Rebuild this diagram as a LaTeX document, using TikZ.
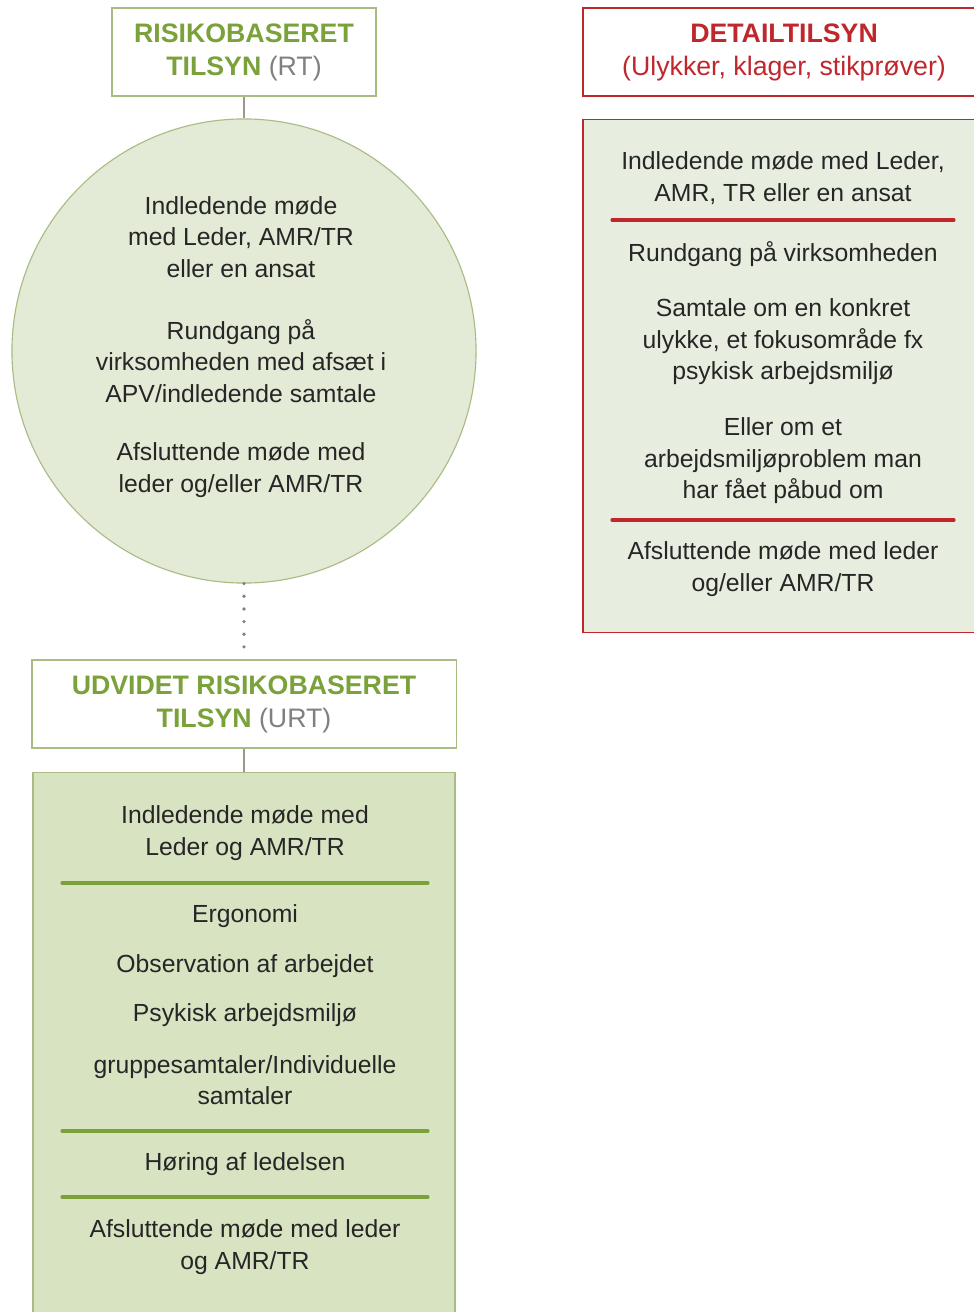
\documentclass[tikz,border=0pt]{standalone}
\usepackage{fontspec}
\setmainfont{Liberation Sans}
\usepackage{tikz}
\usetikzlibrary{positioning}

\definecolor{rtgreen}{HTML}{7AA13A}
\definecolor{rtframe}{HTML}{A9BC84}
\definecolor{rtfill}{HTML}{E3EAD5}
\definecolor{urtfill}{HTML}{D8E3C2}
\definecolor{dtred}{HTML}{C0272D}
\definecolor{dtfill}{HTML}{E8EEDF}
\definecolor{linegrey}{HTML}{9A9A8C}
\definecolor{txt}{HTML}{262626}

\tikzset{
  headbox/.style={draw, fill=white, line width=0.8pt, minimum height=2.2cm, align=center,
    font=\fontsize{19}{23.5}\selectfont},
  bodytxt/.style={align=center, text=txt, font=\fontsize{17.6}{22.4}\selectfont, inner sep=0pt},
  sepline/.style={line width=2.2pt, line cap=round}
}

\begin{document}
\begin{tikzpicture}[x=0.025cm, y=-0.025cm]
\useasboundingbox (0,0) rectangle (973,1312);

% risikobaseret tilsyn
\node[headbox, draw=rtframe, minimum width=6.6cm] (rthead) at (244,52)
  {\textcolor{rtgreen}{\bfseries RISIKOBASERET}\\\textcolor{rtgreen}{\bfseries TILSYN} \textcolor{gray}{(RT)}};
\node[circle, draw=rtframe, fill=rtfill, line width=0.8pt, minimum size=11.6cm] (rtcircle) at (244,351) {};
\draw[linegrey, line width=0.8pt] (rthead.south) -- (rtcircle.north);

\node[bodytxt] (rtmeet) at (241,237) {Indledende møde\\med Leder, AMR/TR\\eller en ansat};
\node[bodytxt] (rtround) at (241,361) {Rundgang på\\virksomheden med afsæt i\\APV/indledende samtale};
\node[bodytxt] (rtend) at (241,470) {Afsluttende møde med\\leder og/eller AMR/TR};

% udvidet risikobaseret tilsyn
\node[headbox, draw=rtframe, minimum width=10.6cm] (urthead) at (244,704)
  {\textcolor{rtgreen}{\bfseries UDVIDET RISIKOBASERET}\\\textcolor{rtgreen}{\bfseries TILSYN} \textcolor{gray}{(URT)}};
\draw[gray, line width=2.6pt, line cap=round, dash pattern=on 0pt off 9pt] (rtcircle.south) -- (urthead.north);

\node[draw=rtframe, fill=urtfill, line width=0.8pt, minimum width=10.55cm, minimum height=13.925cm] (urtbox) at (244,1051.5) {};
\draw[linegrey, line width=0.8pt] (urthead.south) -- (urtbox.north);

\foreach \y in {883,1131,1197}
  \draw[sepline, rtgreen] (62,\y) -- (428,\y);

\node[bodytxt] (urtmeet) at (245,833) {Indledende møde med\\Leder og AMR/TR};
\node[bodytxt] (urtergo) at (245,916) {Ergonomi};
\node[bodytxt] (urtobs) at (245,966) {Observation af arbejdet};
\node[bodytxt] (urtpsyk) at (245,1015) {Psykisk arbejdsmiljø};
\node[bodytxt] (urtgroup) at (245,1080) {gruppesamtaler/Individuelle\\samtaler};
\node[bodytxt] (urthear) at (245,1164) {Høring af ledelsen};
\node[bodytxt] (urtend) at (245,1247) {Afsluttende møde med leder\\og AMR/TR};

% detailtilsyn
\node[headbox, draw=dtred, text=dtred, minimum width=10.05cm] (dthead) at (784,52)
  {{\bfseries DETAILTILSYN}\\(Ulykker, klager, stikprøver)};
\node[draw=dtred, fill=dtfill, line width=0.8pt, minimum width=10.05cm, minimum height=12.8cm] (dtbox) at (784,376) {};

\foreach \y in {220,520}
  \draw[sepline, dtred] (612,\y) -- (954,\y);

\node[bodytxt] (dtmeet) at (783,178) {Indledende møde med Leder,\\AMR, TR eller en ansat};
\node[bodytxt] (dtround) at (783,254) {Rundgang på virksomheden};
\node[bodytxt] (dttalk) at (783,342) {Samtale om en konkret\\ulykke, et fokusområde fx\\psykisk arbejdsmiljø};
\node[bodytxt] (dtorder) at (783,461) {Eller om et\\arbejdsmiljøproblem man\\har fået påbud om};
\node[bodytxt] (dtend) at (783,569) {Afsluttende møde med leder\\og/eller AMR/TR};
\end{tikzpicture}
\end{document}
